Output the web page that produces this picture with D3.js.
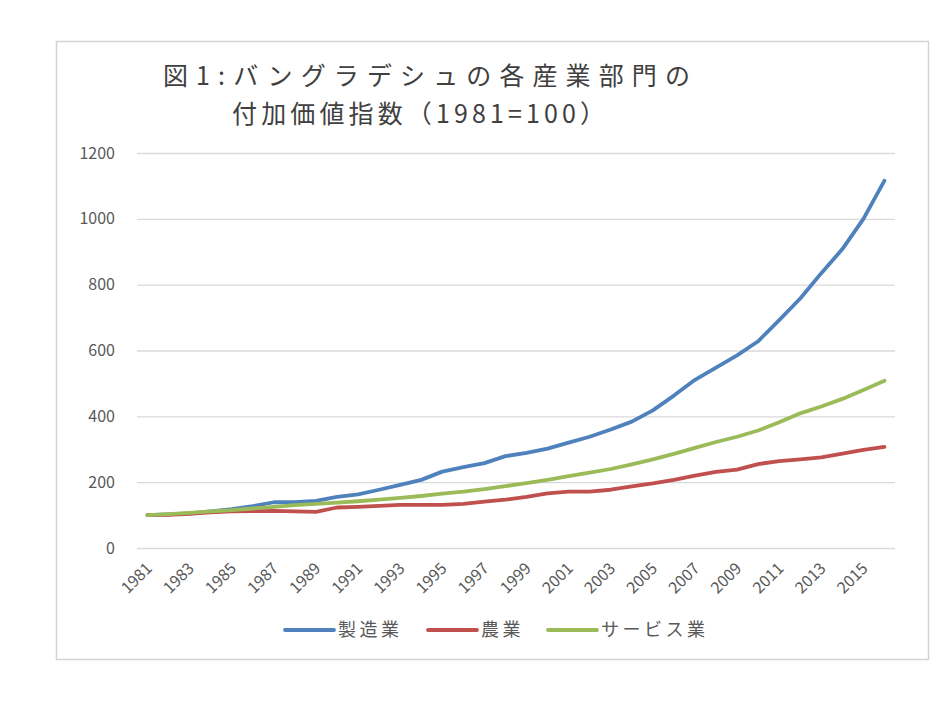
<!DOCTYPE html>
<html>
<head>
<meta charset="utf-8">
<script src="https://cdn.jsdelivr.net/npm/d3@7"></script>
<style>
  html, body { margin: 0; padding: 0; background: #ffffff; }
  svg { display: block; }
</style>
</head>
<body>
<svg id="chart" width="934" height="701"></svg>
<script>
const years = d3.range(1981, 2017).map(String);
const manufacturing = [100, 102, 105, 111, 118, 127, 139, 139, 143, 155, 163, 177, 192, 207, 232, 246, 258, 279, 289, 302, 320, 338, 360, 384, 418, 463, 511, 548, 585, 628, 692, 758, 835, 908, 1000, 1116];
const agriculture = [100, 101, 104, 108, 111, 112, 113, 111, 110, 123, 125, 128, 131, 131, 131, 134, 141, 147, 155, 166, 171, 171, 177, 187, 196, 207, 220, 231, 238, 255, 264, 269, 275, 287, 298, 307];
const services = [100, 103, 107, 111, 115, 120, 125, 130, 134, 138, 142, 147, 152, 158, 165, 171, 179, 188, 197, 207, 218, 229, 240, 254, 269, 286, 304, 322, 338, 357, 382, 409, 430, 453, 480, 508];
const seriesNames = ["製造業", "農業", "サービス業"];
const seriesColors = ["#4F81BD", "#C0504D", "#9BBB59"];
const yTicks = [0, 200, 400, 600, 800, 1000, 1200];
const titleLines = ["図1:バングラデシュの各産業部門の", "付加価値指数（1981=100）"];

const series = [manufacturing, agriculture, services];
const svg = d3.select("#chart");
const font = "'Noto Sans CJK JP', 'Noto Sans', sans-serif";

// frame
svg.append("rect").attr("x", 56.5).attr("y", 41.5).attr("width", 872).attr("height", 618)
  .attr("fill", "#fff").attr("stroke", "#d4d4d4").attr("stroke-width", 1.5);

// title
svg.append("text").attr("x", 163).attr("y", 85).attr("font-family", font).attr("font-size", 25)
  .attr("fill", "#404040").attr("textLength", 527).attr("lengthAdjust", "spacing").text(titleLines[0]);
svg.append("text").attr("x", 232).attr("y", 123).attr("font-family", font).attr("font-size", 25)
  .attr("fill", "#404040").attr("textLength", 373).attr("lengthAdjust", "spacing").text(titleLines[1]);

const plot = { left: 137, right: 895, top: 153, bottom: 548 };
const x = d3.scaleBand().domain(years).range([plot.left, plot.right]);
const y = d3.scaleLinear().domain([0, 1200]).range([plot.bottom, plot.top]);
const cx = d => x(d) + x.bandwidth() / 2;

// gridlines + y axis
const yAxis = d3.axisLeft(y).tickValues(yTicks).tickFormat(d3.format("d"))
  .tickSize(-(plot.right - plot.left)).tickPadding(22);
const gy = svg.append("g").attr("transform", `translate(${plot.left},0)`).call(yAxis);
gy.select(".domain").remove();
gy.selectAll(".tick line").attr("stroke", "#d9d9d9").attr("stroke-width", 1.3);
gy.selectAll(".tick text").attr("font-family", font).attr("font-size", 16).attr("fill", "#595959");

// x axis labels
const xAxis = d3.axisBottom(x).tickValues(years.filter((d, i) => i % 2 === 0)).tickSize(0).tickPadding(0);
const gx = svg.append("g").attr("transform", `translate(0,${plot.bottom})`).call(xAxis);
gx.select(".domain").remove();
gx.selectAll(".tick text")
  .attr("font-family", font).attr("font-size", 16).attr("fill", "#595959")
  .attr("text-anchor", "end")
  .attr("transform", "translate(-3,13) rotate(-45)")
  .attr("dy", "0.75em").attr("dx", 0);

// lines
const line = d3.line().x((d, i) => cx(years[i])).y(d => y(d));
series.forEach((s, k) => {
  svg.append("path").datum(s).attr("d", line)
    .attr("fill", "none").attr("stroke", seriesColors[k]).attr("stroke-width", 3.8)
    .attr("stroke-linejoin", "round").attr("stroke-linecap", "round");
});

// legend
const legendX = [285, 428, 548];
seriesNames.forEach((n, k) => {
  const g = svg.append("g").attr("transform", `translate(${legendX[k]},630)`);
  g.append("line").attr("x1", 0).attr("x2", 49).attr("y1", 0).attr("y2", 0)
    .attr("stroke", seriesColors[k]).attr("stroke-width", 3.8).attr("stroke-linecap", "round");
  g.append("text").attr("x", 53).attr("y", 0).attr("dy", "0.35em")
    .attr("font-family", font).attr("font-size", 18).attr("letter-spacing", 3.5)
    .attr("fill", "#595959").text(n);
});
</script>
</body>
</html>
